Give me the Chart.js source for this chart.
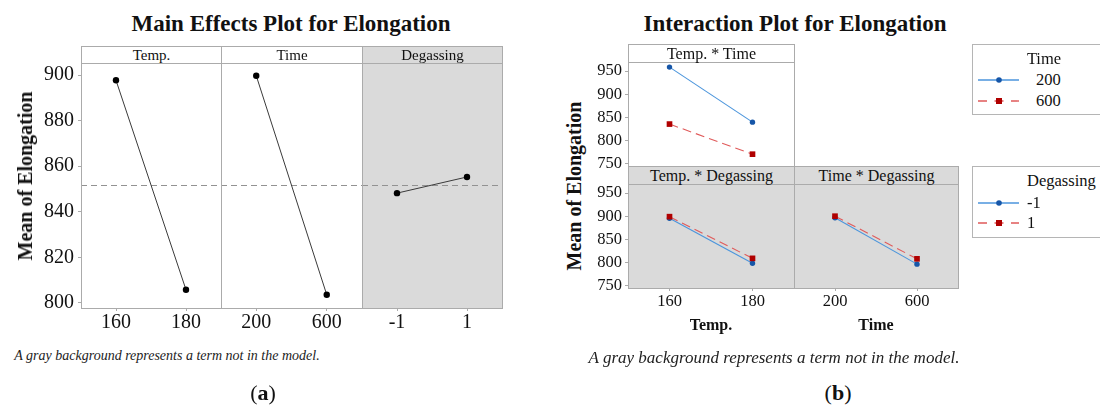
<!DOCTYPE html>
<html>
<head>
<meta charset="utf-8">
<script src="https://cdn.jsdelivr.net/npm/chart.js@4.4.0/dist/chart.umd.min.js"></script>
<style>
  body { margin: 0; background: #fff; }
  #wrap { position: relative; width: 1100px; height: 410px; overflow: hidden; background: #fff;
          font-family: "Liberation Serif", "Times New Roman", serif; color: #111; }
  canvas { position: absolute; }
  .t { position: absolute; white-space: nowrap; line-height: 1; transform: translate(-50%, -50%); }
  .tl { position: absolute; white-space: nowrap; line-height: 1; transform: translate(0, -50%); }
  .rot { transform: translate(-50%, -50%) rotate(-90deg); }
  .strip { position: absolute; box-sizing: border-box; border: 1px solid #ababab; background: #fff;
           display: flex; align-items: center; justify-content: center; white-space: nowrap; line-height: 1; }
  .gray { background: #dadada; }
  .lbox { position: absolute; box-sizing: border-box; border: 1px solid #b5b5b5; background: #fff; }
</style>
</head>
<body>
<div id="wrap"></div>
<script>
// ---------------- DATA ----------------
// Main effects plot
const tempLevels = ['160', '180'];
const timeLevels = ['200', '600'];
const degLevels = ['-1', '1'];
const mainTempMeans = [897.7, 805.8];
const mainTimeMeans = [899.7, 803.6];
const mainDegMeans = [848.2, 855.3];
const grandMean = 851.7;

// Interaction plot
const ttTime200 = [958.5, 839.7];   // Temp * Time, Time = 200
const ttTime600 = [835.5, 770.5];   // Temp * Time, Time = 600
const tdDegM1 = [895.5, 798.5];     // Temp * Degassing, Degassing = -1
const tdDegP1 = [899.0, 809.0];     // Temp * Degassing, Degassing = 1
const mdDegM1 = [896.5, 796.5];     // Time * Degassing, Degassing = -1
const mdDegP1 = [900.0, 808.0];     // Time * Degassing, Degassing = 1

const timeLegendLabels = ['200', '600'];
const degLegendLabels = ['-1', '1'];

// ---------------- STYLE ----------------
const FONT = '"Liberation Serif", "Times New Roman", serif';
const FRAME = '#ababab';
const GRAYBG = '#dadada';
const BLUE_LINE = '#4b95dc';
const BLUE_PT = '#1656a8';
const RED_LINE = '#e05a5a';
const RED_PT = '#b00000';

const wrap = document.getElementById('wrap');

const deco = {
  id: 'deco',
  beforeDraw(chart, args, o) {
    const { ctx, chartArea: a } = chart;
    if (o.fill) {
      ctx.save();
      ctx.fillStyle = o.fill;
      ctx.fillRect(a.left, a.top, a.right - a.left, a.bottom - a.top);
      ctx.restore();
    }
  },
  beforeDatasetsDraw(chart, args, o) {
    const { ctx, chartArea: a, scales } = chart;
    ctx.save();
    if (o.mean !== undefined && o.mean !== null) {
      const py = Math.round(scales.y.getPixelForValue(o.mean)) + 0.5;
      ctx.strokeStyle = '#929292';
      ctx.lineWidth = 1;
      ctx.setLineDash([6, 4]);
      ctx.beginPath();
      ctx.moveTo(a.left, py);
      ctx.lineTo(a.right, py);
      ctx.stroke();
      ctx.setLineDash([]);
    }
    ctx.strokeStyle = FRAME;
    ctx.lineWidth = 1;
    ctx.strokeRect(a.left + 0.5, a.top + 0.5, a.right - a.left, a.bottom - a.top);
    ctx.restore();
  }
};

function makePanel(cfg) {
  const yW = cfg.showY ? cfg.yW : 0;
  const xH = cfg.showX ? cfg.xH : 0;
  const padT = cfg.padT, padB = cfg.padB, padR = 4;
  const w = yW + (cfg.r - cfg.l) + padR;
  const h = padT + (cfg.b - cfg.t) + xH + padB;
  const c = document.createElement('canvas');
  c.width = w; c.height = h;
  c.style.left = (cfg.l - yW) + 'px';
  c.style.top = (cfg.t - padT) + 'px';
  c.style.width = w + 'px';
  c.style.height = h + 'px';
  wrap.appendChild(c);
  new Chart(c, {
    type: 'line',
    data: { labels: cfg.labels, datasets: cfg.datasets },
    options: {
      responsive: false,
      animation: false,
      devicePixelRatio: 1,
      layout: { autoPadding: false, padding: { left: 0, top: padT, right: padR, bottom: padB } },
      plugins: {
        legend: { display: false },
        tooltip: { enabled: false },
        deco: { fill: cfg.fill, mean: cfg.mean }
      },
      scales: {
        x: {
          type: 'category',
          display: cfg.showX,
          offset: true,
          grid: { display: true, drawOnChartArea: false, drawTicks: true, tickLength: 3, color: FRAME, offset: false },
          border: { display: false },
          ticks: { font: { family: FONT, size: cfg.tickSize }, color: '#111', padding: cfg.xPad,
                   maxRotation: 0, autoSkip: false },
          afterFit: s => { s.height = xH; }
        },
        y: {
          display: cfg.showY,
          min: cfg.yMin, max: cfg.yMax,
          grid: { display: true, drawOnChartArea: false, drawTicks: true, tickLength: 3, color: FRAME },
          border: { display: false },
          ticks: { stepSize: cfg.yStep, includeBounds: false, font: { family: FONT, size: cfg.tickSize },
                   color: '#111', padding: cfg.yPad },
          afterFit: s => { s.width = yW; }
        }
      }
    },
    plugins: [deco]
  });
}

function mainDs(values) {
  return [{
    data: values, borderColor: '#3a3a3a', borderWidth: 1, pointRadius: 3.2,
    pointBackgroundColor: '#000', pointBorderColor: '#000', pointBorderWidth: 0, tension: 0
  }];
}
function blueDs(values) {
  return { data: values, borderColor: BLUE_LINE, borderWidth: 1.1, pointStyle: 'circle', pointRadius: 2.7,
           pointBackgroundColor: BLUE_PT, pointBorderColor: BLUE_PT, pointBorderWidth: 0, order: 1, tension: 0 };
}
function redDs(values) {
  return { data: values, borderColor: RED_LINE, borderWidth: 1.1, borderDash: [9, 5], pointStyle: 'rect',
           pointRadius: 4, pointBackgroundColor: RED_PT, pointBorderColor: RED_PT, pointBorderWidth: 0,
           order: 0, tension: 0 };
}

// ---------- Main effects panels ----------
const mainCommon = { t: 63, b: 308, yMin: 797.8, yMax: 905.3, yStep: 20, tickSize: 20, yW: 50, xH: 40,
                     padT: 22, padB: 0, xPad: 0, yPad: 4, showX: true, mean: grandMean };
makePanel(Object.assign({}, mainCommon, { l: 81, r: 221, showY: true, labels: tempLevels, datasets: mainDs(mainTempMeans) }));
makePanel(Object.assign({}, mainCommon, { l: 221, r: 362, showY: false, labels: timeLevels, datasets: mainDs(mainTimeMeans) }));
makePanel(Object.assign({}, mainCommon, { l: 362, r: 502, showY: false, labels: degLevels, datasets: mainDs(mainDegMeans), fill: GRAYBG }));

// ---------- Interaction panels ----------
const intCommon = { yMin: 745, yMax: 969.5, yStep: 50, tickSize: 16.5, yW: 40, xH: 32, padT: 20, padB: 20,
                    xPad: 1, yPad: 3 };
makePanel(Object.assign({}, intCommon, { l: 628, r: 794, t: 62, b: 166, showY: true, showX: false,
  labels: tempLevels, datasets: [blueDs(ttTime200), redDs(ttTime600)] }));
makePanel(Object.assign({}, intCommon, { l: 628, r: 794, t: 184, b: 288, showY: true, showX: true, padB: 0,
  labels: tempLevels, datasets: [blueDs(tdDegM1), redDs(tdDegP1)], fill: GRAYBG }));
makePanel(Object.assign({}, intCommon, { l: 794, r: 958, t: 184, b: 288, showY: false, showX: true, padB: 0,
  labels: timeLevels, datasets: [blueDs(mdDegM1), redDs(mdDegP1)], fill: GRAYBG }));

// ---------- HTML text & decorations ----------
function el(cls, html, css) {
  const d = document.createElement('div');
  d.className = cls;
  d.innerHTML = html;
  Object.assign(d.style, css);
  wrap.appendChild(d);
  return d;
}
function strip(text, l, r, top, bottom, size, gray) {
  el('strip' + (gray ? ' gray' : ''), text, { left: l + 'px', top: top + 'px', width: (r - l + 1) + 'px',
     height: (bottom - top + 1) + 'px', fontSize: size + 'px' });
}

// strips
strip('Temp.', 81, 221, 46, 63, 15, false);
strip('Time', 221, 362, 46, 63, 15, false);
strip('Degassing', 362, 502, 46, 63, 15, true);
strip('Temp. * Time', 628, 794, 44, 62, 16, false);
strip('Temp. * Degassing', 628, 794, 166, 184, 16, true);
strip('Time * Degassing', 794, 958, 166, 184, 16, true);

// titles
el('t', 'Main Effects Plot for Elongation', { left: '291px', top: '22.5px', fontSize: '23px', fontWeight: 'bold' });
el('t', 'Interaction Plot for Elongation', { left: '795px', top: '22.5px', fontSize: '23px', fontWeight: 'bold' });
el('t rot', 'Mean of Elongation', { left: '25px', top: '176px', fontSize: '20px', fontWeight: 'bold' });
el('t rot', 'Mean of Elongation', { left: '574px', top: '186px', fontSize: '20px', fontWeight: 'bold' });
el('t', 'Temp.', { left: '711px', top: '325px', fontSize: '16px', fontWeight: 'bold' });
el('t', 'Time', { left: '876px', top: '325px', fontSize: '16px', fontWeight: 'bold' });
el('t', 'A gray background represents a term not in the model.', { left: '167px', top: '356px', fontSize: '14px', fontStyle: 'italic', color: '#222' });
el('t', 'A gray background represents a term not in the model.', { left: '774px', top: '357px', fontSize: '17px', fontStyle: 'italic', color: '#222' });
el('t', '(<b>a</b>)', { left: '263px', top: '393px', fontSize: '22px' });
el('t', '(<b>b</b>)', { left: '838px', top: '393px', fontSize: '22px' });

// legends
el('lbox', '', { left: '972px', top: '44px', width: '140px', height: '71px' });
el('lbox', '', { left: '972px', top: '166px', width: '140px', height: '72px' });

function legendSample(y, kind) {
  const ns = 'http://www.w3.org/2000/svg';
  const s = document.createElementNS(ns, 'svg');
  s.setAttribute('width', '50'); s.setAttribute('height', '12');
  s.style.position = 'absolute'; s.style.left = '975px'; s.style.top = (y - 6) + 'px';
  const line = document.createElementNS(ns, 'line');
  line.setAttribute('x1', '3'); line.setAttribute('x2', '44'); line.setAttribute('y1', '6'); line.setAttribute('y2', '6');
  line.setAttribute('stroke-width', '1.4');
  if (kind === 'blue') {
    line.setAttribute('stroke', BLUE_LINE);
    s.appendChild(line);
    const c = document.createElementNS(ns, 'circle');
    c.setAttribute('cx', '24'); c.setAttribute('cy', '6'); c.setAttribute('r', '2.8'); c.setAttribute('fill', BLUE_PT);
    s.appendChild(c);
  } else {
    line.setAttribute('stroke', RED_LINE);
    line.setAttribute('stroke-dasharray', '9 7.5');
    s.appendChild(line);
    const r = document.createElementNS(ns, 'rect');
    r.setAttribute('x', '21'); r.setAttribute('y', '3'); r.setAttribute('width', '6'); r.setAttribute('height', '6');
    r.setAttribute('fill', RED_PT);
    s.appendChild(r);
  }
  wrap.appendChild(s);
}

el('t', 'Time', { left: '1044px', top: '58.5px', fontSize: '16.5px' });
legendSample(80, 'blue');
legendSample(101, 'red');
el('tl', timeLegendLabels[0], { left: '1036px', top: '80px', fontSize: '16.5px' });
el('tl', timeLegendLabels[1], { left: '1036px', top: '101px', fontSize: '16.5px' });

el('tl', 'Degassing', { left: '1027px', top: '181px', fontSize: '16.5px' });
legendSample(203, 'blue');
legendSample(223, 'red');
el('tl', degLegendLabels[0], { left: '1027px', top: '202.5px', fontSize: '16.5px' });
el('tl', degLegendLabels[1], { left: '1027px', top: '223px', fontSize: '16.5px' });
</script>
</body>
</html>
